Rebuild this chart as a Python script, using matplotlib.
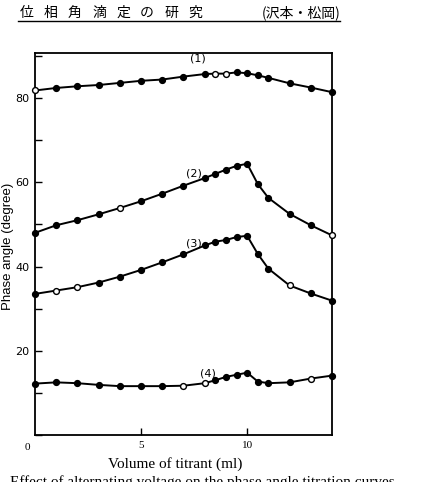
import matplotlib.pyplot as plt
from matplotlib.ticker import MultipleLocator

# titrant volume (ml)
x = [0, 1, 2, 3, 4, 5, 6, 7, 8, 8.5, 9, 9.5, 10, 10.5, 11, 12, 13, 14]

# phase angle (degree) for the four curves
y1 = [81.8, 82.4, 82.8, 83.1, 83.6, 84.1, 84.4, 85.1, 85.7, 85.8, 85.8, 86.1, 85.9, 85.4, 84.8, 83.5, 82.5, 81.4]
y2 = [48.0, 49.8, 51.0, 52.4, 53.9, 55.5, 57.3, 59.2, 61.0, 62.0, 63.0, 63.9, 64.4, 59.6, 56.3, 52.5, 49.8, 47.4]
y3 = [33.5, 34.3, 35.1, 36.2, 37.6, 39.2, 41.0, 42.9, 45.0, 45.9, 46.3, 47.0, 47.3, 43.0, 39.5, 35.5, 33.6, 31.9]
y4 = [12.2, 12.5, 12.3, 11.9, 11.6, 11.6, 11.6, 11.7, 12.3, 13.0, 13.8, 14.3, 14.8, 12.7, 12.3, 12.5, 13.4, 14.1]

# which points are drawn as open circles
open1 = [0, 9, 10]
open2 = [4, 17]
open3 = [1, 2, 15]
open4 = [7, 8, 16]

labels = ['(1)', '(2)', '(3)', '(4)']
label_pos = [(7.3, 89.5), (7.1, 62.0), (7.1, 45.5), (7.8, 14.5)]

header_chars = ['位', '相', '角', '滴', '定', 'の', '研', '究']

fig = plt.figure(figsize=(4.22, 4.82), dpi=100)
ax = fig.add_axes([35 / 422, 1 - 435 / 482, 297 / 422, 382 / 482])

for yy, op in [(y1, open1), (y2, open2), (y3, open3), (y4, open4)]:
    ax.plot(x, yy, color='black', lw=1.4, zorder=2, clip_on=False)
    for i in range(len(x)):
        fc = 'white' if i in op else 'black'
        ax.plot(x[i], yy[i], 'o', ms=4.2, mfc=fc, mec='black', mew=1.0,
                zorder=3, clip_on=False)

for lab, (lx, ly) in zip(labels, label_pos):
    ax.text(lx, ly, lab, fontsize=8, family='DejaVu Sans', ha='left', va='center')

ax.set_xlim(0, 14)
ax.set_ylim(0, 90.7)
ax.set_xticks([5, 10])
ax.set_xticklabels(['5', '10'], family='Liberation Serif', fontsize=8)
ax.yaxis.set_minor_locator(MultipleLocator(10))
ax.set_yticks([20, 40, 60, 80])
ax.set_yticklabels(['20', '40', '60', '80'], family='Liberation Sans Narrow', fontsize=8)
ax.tick_params(axis='both', which='both', direction='in', length=5, width=1.0)
ax.tick_params(axis='y', pad=4)
ax.tick_params(axis='x', pad=4)
for s in ax.spines.values():
    s.set_linewidth(1.3)

fig.text(27 / 422, 1 - 447 / 482, '0', family='Liberation Serif', fontsize=8,
         ha='center', va='center')
fig.text(8 / 422, 1 - 246 / 482, 'Phase angle (degree)', rotation=90,
         family='Liberation Sans', fontsize=9.5, ha='center', va='center')
fig.text(175 / 422, 1 - 464 / 482, 'Volume of titrant (ml)',
         family='Liberation Serif', fontsize=11, ha='center', va='center')
fig.text(10 / 422, 1 - 475 / 482,
         'Effect of alternating voltage on the phase angle titration curves',
         family='Liberation Serif', fontsize=11, ha='left', va='top')

# header
for k, ch in enumerate(header_chars):
    fig.text((27 + 24 * k) / 422, 1 - 13 / 482, ch,
             family='Noto Sans CJK JP', fontsize=10, ha='center', va='center')
fig.text(262 / 422, 1 - 13 / 482, '(沢本・松岡)',
         family=['Noto Sans CJK JP', 'DejaVu Sans'], fontsize=10, ha='left', va='center')
fig.add_artist(plt.Line2D([18 / 422, 340 / 422], [1 - 21 / 482, 1 - 21 / 482],
                          color='black', lw=1.0))

fig.savefig('out.png', dpi=100)
